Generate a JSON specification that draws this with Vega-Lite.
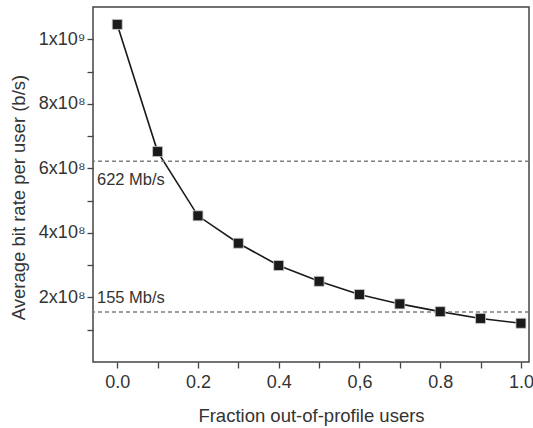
{
  "$schema": "https://vega.github.io/schema/vega-lite/v6.json",
  "width": 436,
  "height": 355,
  "autosize": {"type": "none"},
  "padding": {"left": 93, "top": 7, "right": 4, "bottom": 66},
  "background": "white",
  "view": {"stroke": "#444", "strokeWidth": 1.5},
  "config": {
    "font": "Liberation Sans",
    "axis": {
      "domain": false,
      "grid": false,
      "tickColor": "#444",
      "tickWidth": 1.3,
      "tickSize": 6,
      "labelColor": "#333",
      "labelFontSize": 18,
      "labelFont": "Liberation Sans",
      "titleColor": "#333",
      "titleFontSize": 18.5,
      "titleFont": "Liberation Sans",
      "titleFontWeight": "normal"
    }
  },
  "datasets": {
    "curve": [
      {"fraction": 0.0, "rate": 1046000000},
      {"fraction": 0.1, "rate": 652000000},
      {"fraction": 0.2, "rate": 453000000},
      {"fraction": 0.3, "rate": 368000000},
      {"fraction": 0.4, "rate": 299000000},
      {"fraction": 0.5, "rate": 250000000},
      {"fraction": 0.6, "rate": 209000000},
      {"fraction": 0.7, "rate": 180000000},
      {"fraction": 0.8, "rate": 156000000},
      {"fraction": 0.9, "rate": 135000000},
      {"fraction": 1.0, "rate": 120000000}
    ],
    "limits": [
      {"label": "622 Mb/s", "rate": 622000000, "pos": "below"},
      {"label": "155 Mb/s", "rate": 155000000, "pos": "above"}
    ]
  },
  "layer": [
    {
      "data": {"name": "curve"},
      "mark": {"type": "line", "color": "#1a1a1a", "strokeWidth": 1.6},
      "encoding": {
        "x": {
          "field": "fraction", "type": "quantitative",
          "scale": {"domain": [-0.06, 1.02], "nice": false, "zero": false},
          "axis": {
            "title": "Fraction out-of-profile users",
            "values": [0, 0.1, 0.2, 0.3, 0.4, 0.5, 0.6, 0.7, 0.8, 0.9, 1.0],
            "tickCount": 30,
            "labelExpr": "round(datum.value*10)%2==1 ? '' : (round(datum.value*10)==6 ? '0,6' : format(datum.value, '.1f'))",
            "labelPadding": 5,
            "titlePadding": 15,
            "labelFlush": false,
            "labelOverlap": false
          }
        },
        "y": {
          "field": "rate", "type": "quantitative",
          "scale": {"domain": [0, 1100000000], "nice": false},
          "axis": {
            "title": "Average bit rate per user (b/s)",
            "values": [100000000, 200000000, 300000000, 400000000, 500000000, 600000000, 700000000, 800000000, 900000000, 1000000000],
            "tickCount": 30,
            "labelExpr": "datum.value == 1000000000 ? '1x10⁹' : (round(datum.value/100000000)%2 == 0 ? (round(datum.value/100000000) + 'x10⁸') : '')",
            "labelPadding": 2,
            "titlePadding": 10,
            "titleY": 190,
            "labelOverlap": false,
            "labelFlush": false
          }
        }
      }
    },
    {
      "data": {"name": "limits"},
      "mark": {"type": "rule", "color": "#808080", "strokeDash": [4, 3], "strokeWidth": 1.5},
      "encoding": {
        "y": {"field": "rate", "type": "quantitative"}
      }
    },
    {
      "data": {"name": "limits"},
      "transform": [{"filter": "datum.pos == 'below'"}],
      "mark": {"type": "text", "align": "left", "baseline": "middle", "dx": 4, "dy": 19, "fontSize": 16.5, "color": "#333", "font": "Liberation Sans"},
      "encoding": {
        "x": {"datum": -0.06, "type": "quantitative"},
        "y": {"field": "rate", "type": "quantitative"},
        "text": {"field": "label"}
      }
    },
    {
      "data": {"name": "limits"},
      "transform": [{"filter": "datum.pos == 'above'"}],
      "mark": {"type": "text", "align": "left", "baseline": "middle", "dx": 4, "dy": -14, "fontSize": 16.5, "color": "#333", "font": "Liberation Sans"},
      "encoding": {
        "x": {"datum": -0.06, "type": "quantitative"},
        "y": {"field": "rate", "type": "quantitative"},
        "text": {"field": "label"}
      }
    },
    {
      "data": {"name": "curve"},
      "mark": {"type": "point", "shape": "square", "filled": true, "size": 100, "color": "#1a1a1a", "stroke": "#cccccc", "strokeWidth": 0.8, "opacity": 1},
      "encoding": {
        "x": {"field": "fraction", "type": "quantitative"},
        "y": {"field": "rate", "type": "quantitative"}
      }
    }
  ]
}
